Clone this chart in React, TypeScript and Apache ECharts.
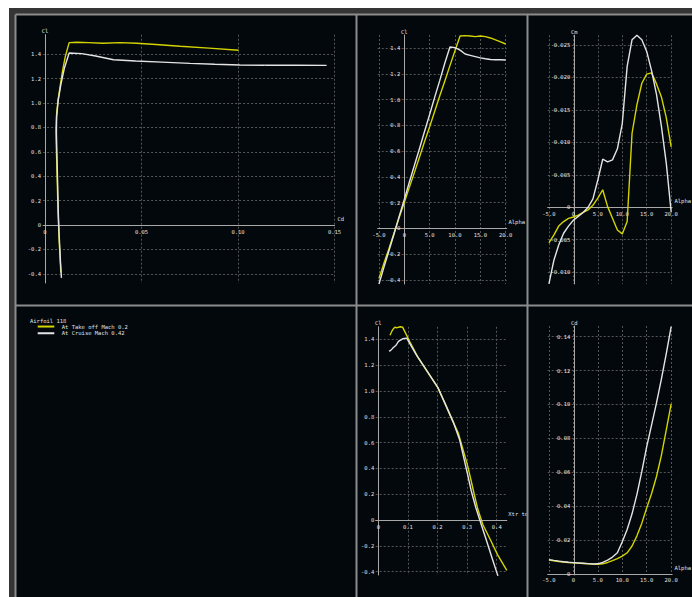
import React, { useEffect, useRef } from 'react';
import * as echarts from 'echarts';

// Angle of attack (deg) for both polars
const alpha = [-5, -4, -3, -2, -1, 0, 1, 2, 3, 4, 5, 6, 7, 8, 9, 10, 11, 12, 13, 14, 15, 16, 17, 18, 19, 20];

// At Take off, Mach 0.2
const clTakeoff = [-0.39, -0.27, -0.155, -0.035, 0.085, 0.2, 0.32, 0.435, 0.555, 0.675, 0.79, 0.91, 1.03, 1.145, 1.265, 1.38, 1.495, 1.498, 1.495, 1.49, 1.495, 1.49, 1.48, 1.465, 1.45, 1.433];
const cdTakeoff = [0.0082, 0.0078, 0.0074, 0.0071, 0.0068, 0.0066, 0.0064, 0.0062, 0.006, 0.0058, 0.0057, 0.006, 0.0068, 0.0079, 0.0091, 0.0105, 0.0125, 0.0165, 0.0225, 0.03, 0.039, 0.0475, 0.0575, 0.07, 0.085, 0.1003];
const cmTakeoff = [-0.0055, -0.0043, -0.0029, -0.0022, -0.0017, -0.0015, -0.0012, -0.0008, -0.0004, 0.0003, 0.0014, 0.0027, 0.0001, -0.0017, -0.0035, -0.0041, -0.0022, 0.0114, 0.0158, 0.0191, 0.0205, 0.0207, 0.019, 0.017, 0.0138, 0.0093];
const xtrTakeoff = [0.434, 0.403, 0.379, 0.353, 0.336, 0.324, 0.312, 0.3, 0.285, 0.27, 0.247, 0.224, 0.2, 0.167, 0.133, 0.107, 0.082, 0.075, 0.068, 0.062, 0.057, 0.054, 0.05, 0.046, 0.043, 0.0395];

// At Cruise, Mach 0.42
const clCruise = [-0.433, -0.3, -0.17, -0.04, 0.095, 0.225, 0.36, 0.49, 0.62, 0.755, 0.885, 1.02, 1.15, 1.285, 1.41, 1.405, 1.385, 1.355, 1.345, 1.335, 1.325, 1.318, 1.312, 1.31, 1.31, 1.309];
const cdCruise = [0.0085, 0.008, 0.0076, 0.0072, 0.0069, 0.0067, 0.0065, 0.0063, 0.0061, 0.0059, 0.006, 0.0068, 0.0082, 0.01, 0.0125, 0.019, 0.0262, 0.0355, 0.047, 0.0605, 0.0751, 0.088, 0.101, 0.115, 0.13, 0.1459];
const cmCruise = [-0.0118, -0.0082, -0.0058, -0.004, -0.0029, -0.002, -0.0014, -0.0008, 0.0, 0.0013, 0.0042, 0.0074, 0.007, 0.0073, 0.009, 0.0129, 0.0217, 0.0258, 0.0265, 0.0258, 0.024, 0.021, 0.0174, 0.0125, 0.0068, -0.0007];
const xtrCruise = [0.404, 0.385, 0.367, 0.3485, 0.3295, 0.314, 0.301, 0.288, 0.275, 0.254, 0.229, 0.203, 0.166, 0.1275, 0.096, 0.082, 0.068, 0.06, 0.055, 0.05, 0.046, 0.043, 0.04, 0.038, 0.036, 0.034];

// Tick values
const clTicks = [-0.4, -0.2, 0, 0.2, 0.4, 0.6, 0.8, 1.0, 1.2, 1.4];
const cdPolarTicks = [0, 0.05, 0.1, 0.15];
const alphaTicks = [-5, 0, 5, 10, 15, 20];
const cmTicks = [-0.01, -0.005, 0, 0.005, 0.01, 0.015, 0.02, 0.025];
const xtrTicks = [0, 0.1, 0.2, 0.3, 0.4];
const cdTicks = [0, 0.02, 0.04, 0.06, 0.08, 0.1, 0.12, 0.14];

const TAKEOFF = 'At Take off Mach 0.2';
const CRUISE = 'At Cruise Mach 0.42';
const YELLOW = '#d4d400';
const WHITE = '#e4e4e4';
const TEXT = '#e0e0e0';
const FONT = 'DejaVu Sans Mono';
const FS = 5.5;

// chart origin on the page
const OX = 9;
const OY = 8;

const fixed = (d: number) => (v: number) => (v === 0 ? '0' : v.toFixed(d));

type AxisSpec = {
  ticks: number[];
  min: number;
  max: number;
  name: string;
  fmt: (v: number) => string;
};

type PanelSpec = {
  box: [number, number, number, number]; // page left, top, width, height
  x: AxisSpec & { gap: number; nameWidth?: number };
  y: AxisSpec;
  xs: number[][];
  ys: number[][];
};

const zip = (a: number[], b: number[]) => a.map((v, i) => [v, b[i]]);

const panels: PanelSpec[] = [
  {
    box: [43.1, 34.7, 291.4, 248.3],
    x: { ticks: cdPolarTicks, min: -0.001, max: 0.15, name: 'Cd', fmt: fixed(2), gap: 3 },
    y: { ticks: clTicks, min: -0.475, max: 1.56, name: 'Cl', fmt: fixed(1) },
    xs: [cdTakeoff, cdCruise],
    ys: [clTakeoff, clCruise],
  },
  {
    box: [377.7, 35.0, 129.0, 249.0],
    x: { ticks: alphaTicks, min: -5.25, max: 20.2, name: 'Alpha', fmt: fixed(1), gap: 1.8 },
    y: { ticks: clTicks, min: -0.433, max: 1.503, name: 'Cl', fmt: fixed(1) },
    xs: [alpha, alpha],
    ys: [clTakeoff, clCruise],
  },
  {
    box: [547.7, 35.2, 129.0, 248.7],
    x: { ticks: alphaTicks, min: -5.25, max: 20.2, name: 'Alpha', fmt: fixed(1), gap: 2.3 },
    y: { ticks: cmTicks, min: -0.0118, max: 0.0265, name: 'Cm', fmt: fixed(3) },
    xs: [alpha, alpha],
    ys: [cmTakeoff, cmCruise],
  },
  {
    box: [375.7, 326.8, 131.1, 248.2],
    x: { ticks: xtrTicks, min: -0.0088, max: 0.434, name: 'Xtr top', fmt: fixed(1), gap: 1.5, nameWidth: 22 },
    y: { ticks: clTicks, min: -0.426, max: 1.498, name: 'Cl', fmt: fixed(1) },
    xs: [xtrTakeoff, xtrCruise],
    ys: [clTakeoff, clCruise],
  },
  {
    box: [547.7, 326.0, 129.0, 249.0],
    x: { ticks: alphaTicks, min: -5.25, max: 20.2, name: 'Alpha', fmt: fixed(1), gap: 2.3 },
    y: { ticks: cdTicks, min: -0.0006, max: 0.1463, name: 'Cd', fmt: fixed(2) },
    xs: [alpha, alpha],
    ys: [cdTakeoff, cdCruise],
  },
];

const labelStyle = { color: TEXT, fontSize: FS, fontFamily: FONT };
const axisLine = { show: true, onZero: false, lineStyle: { color: '#a8a8a8', width: 1 } };
const splitLine = { show: true, lineStyle: { color: '#565656', width: 1, type: [2, 2] } };

// distance (px) from an axis' min end to its zero
const zeroOffset = (a: AxisSpec, len: number) => ((0 - a.min) / (a.max - a.min)) * len;

function buildOption() {
  const grid = panels.map((p) => ({
    left: p.box[0] - OX,
    top: p.box[1] - OY,
    width: p.box[2],
    height: p.box[3],
    containLabel: false,
  }));

  // x axes sit on Cl/Cm/Cd = 0, y axes on the x zero
  const xAxis = panels.map((p, i) => ({
    type: 'value',
    gridIndex: i,
    position: 'bottom',
    offset: -zeroOffset(p.y, p.box[3]),
    min: p.x.min,
    max: p.x.max,
    name: p.x.name,
    nameLocation: 'end',
    nameGap: p.x.gap,
    ...(p.x.nameWidth ? { nameTruncate: { maxWidth: p.x.nameWidth, ellipsis: '' } } : {}),
    nameTextStyle: {
      ...labelStyle,
      align: 'left',
      verticalAlign: 'bottom',
      padding: [0, 0, 3, 0],
    },
    axisLine,
    axisTick: { show: false, customValues: p.x.ticks },
    axisLabel: { ...labelStyle, customValues: p.x.ticks, formatter: p.x.fmt, margin: 3.5 },
    splitLine,
  }));

  const yAxis = panels.map((p, i) => ({
    type: 'value',
    gridIndex: i,
    position: 'left',
    offset: -zeroOffset(p.x, p.box[2]),
    min: p.y.min,
    max: p.y.max,
    name: p.y.name,
    nameLocation: 'end',
    nameGap: 0.5,
    nameTextStyle: { ...labelStyle },
    axisLine,
    axisTick: { show: false, customValues: p.y.ticks },
    axisLabel: { ...labelStyle, customValues: p.y.ticks, formatter: p.y.fmt, margin: 4 },
    splitLine,
  }));

  const series: any[] = [];
  panels.forEach((p, i) => {
    [TAKEOFF, CRUISE].forEach((name, k) => {
      const color = k === 0 ? YELLOW : WHITE;
      series.push({
        type: 'line',
        name,
        xAxisIndex: i,
        yAxisIndex: i,
        data: zip(p.xs[k], p.ys[k]),
        symbol: 'none',
        clip: false,
        color,
        lineStyle: { color, width: 1.4 },
        itemStyle: { color },
        z: 2 + k,
      });
    });
  });

  const W = 692 - OX;
  const H = 597 - OY;
  const border = '#8c8c8c';
  const bline = (x1: number, y1: number, x2: number, y2: number) => ({
    type: 'line',
    z: 100,
    shape: { x1: x1 - OX, y1: y1 - OY, x2: x2 - OX, y2: y2 - OY },
    style: { stroke: border, lineWidth: 2 },
  });

  const graphic = [
    // outer frame band
    { type: 'rect', z: 99, shape: { x: 0, y: 0, width: W, height: 14.5 - OY }, style: { fill: '#353535' } },
    { type: 'rect', z: 99, shape: { x: 0, y: 0, width: 15.5 - OX, height: H }, style: { fill: '#353535' } },
    // panel borders
    bline(15.5, 14.5, 692, 14.5),
    bline(15.5, 14.5, 15.5, 597),
    bline(356.5, 14.5, 356.5, 597),
    bline(527.5, 14.5, 527.5, 597),
    bline(15.5, 305.5, 692, 305.5),
    {
      type: 'text',
      z: 100,
      x: 30 - OX,
      y: 321 - OY,
      style: { text: 'Airfoil 118', fill: TEXT, fontSize: FS, fontFamily: FONT, verticalAlign: 'middle' },
    },
  ];

  return {
    animation: false,
    backgroundColor: '#03080c',
    grid,
    xAxis,
    yAxis,
    series,
    graphic,
    legend: {
      data: [TAKEOFF, CRUISE],
      orient: 'vertical',
      left: 37.7 - OX,
      top: 323.2 - OY,
      padding: 0,
      itemGap: 0,
      itemWidth: 16.6,
      itemHeight: 2,
      icon: 'rect',
      selectedMode: false,
      textStyle: { ...labelStyle, lineHeight: 6.7, padding: [0, 0, 0, 2.4] },
    },
  };
}

export default function App() {
  const ref = useRef<HTMLDivElement>(null);
  useEffect(() => {
    if (!ref.current) return;
    const chart = echarts.init(ref.current, null, { renderer: 'svg' });
    chart.setOption(buildOption() as any);
    return () => chart.dispose();
  }, []);
  return (
    <div
      ref={ref}
      style={{ position: 'fixed', left: OX, top: OY, width: 692 - OX, height: 597 - OY }}
    />
  );
}
